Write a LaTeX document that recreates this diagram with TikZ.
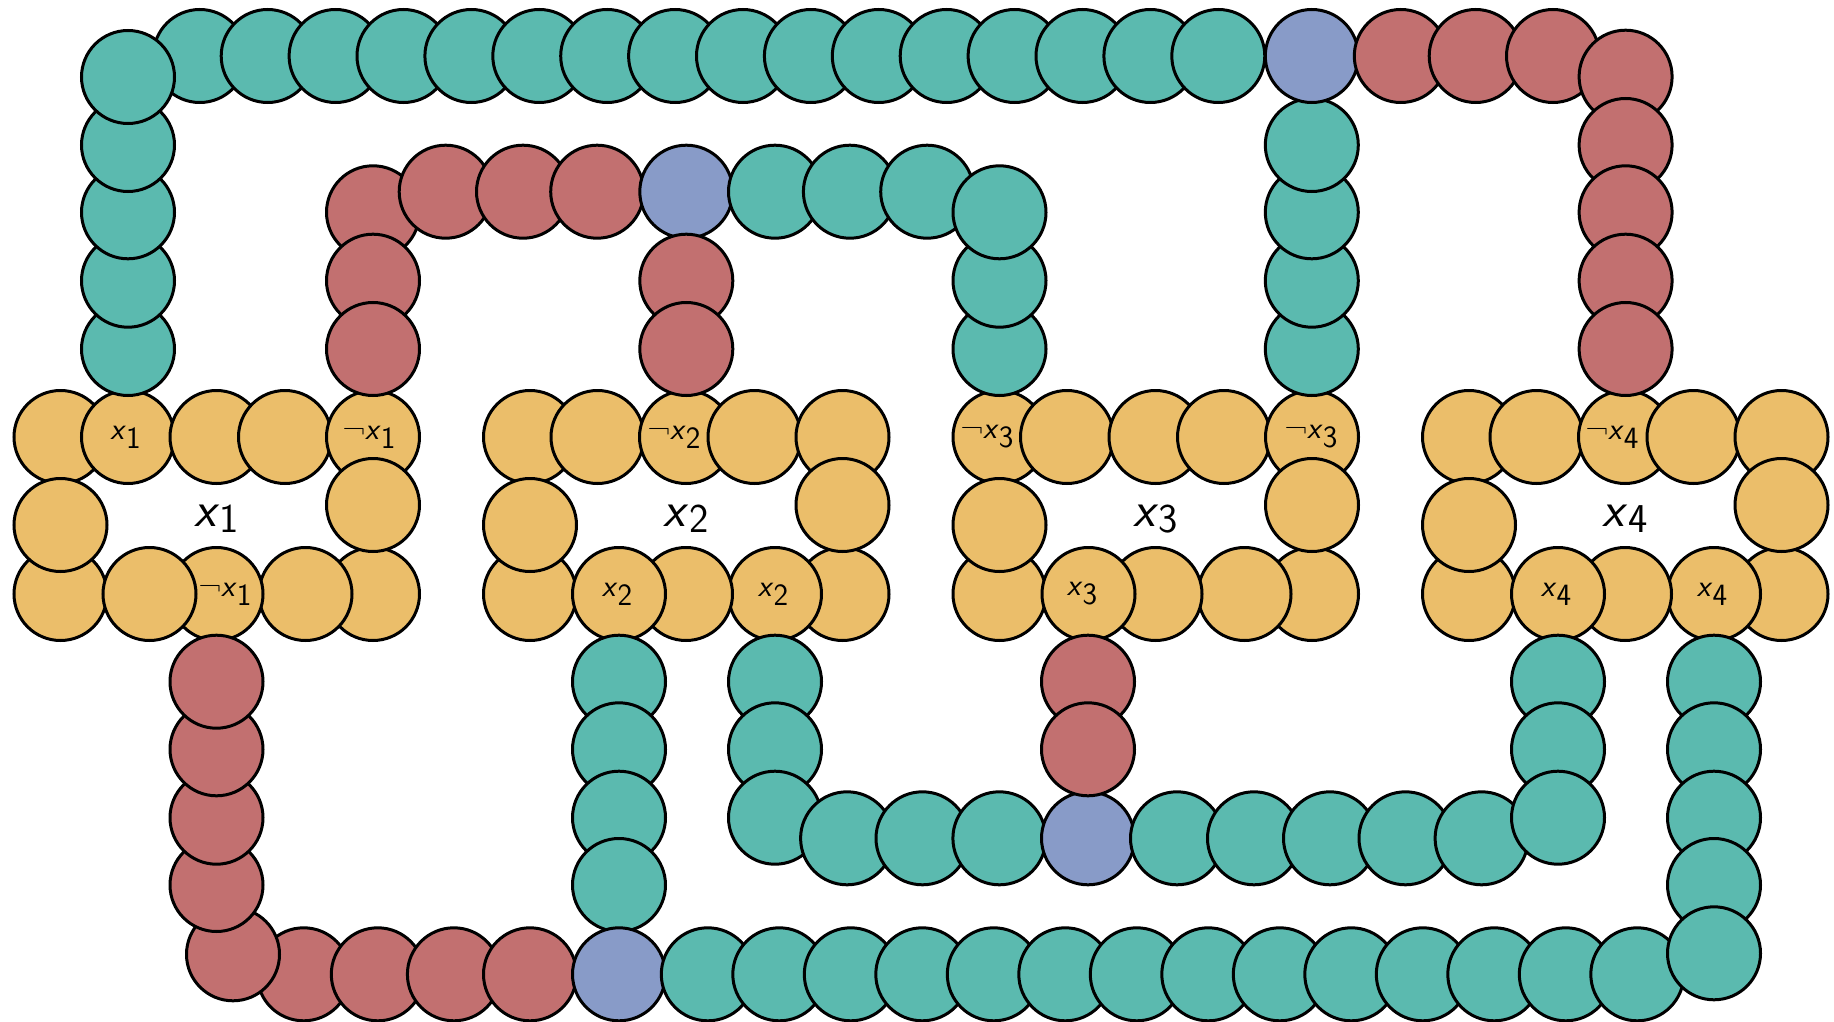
\documentclass[tikz,border=0pt]{standalone}
\definecolor{tealc}{RGB}{91,186,175}
\definecolor{redc}{RGB}{194,112,112}
\definecolor{bluec}{RGB}{136,155,200}
\definecolor{orac}{RGB}{235,190,106}
\newcommand\posl[1]{\textsl{x}\raisebox{-9pt}{#1}}
\newcommand\negl[1]{¬\posl{#1}}
\newcommand\varlab[1]{\textsl{x}\raisebox{-6pt}{\fontsize{41}{41}\selectfont #1}}
\tikzset{
  bead/.style={circle, draw=black, line width=3pt, minimum size=93pt, inner sep=0pt},
  tealb/.style={bead, fill=tealc},
  redb/.style={bead, fill=redc},
  blueb/.style={bead, fill=bluec},
  orab/.style={bead, fill=orac},
  lab/.style={font=\fontsize{31}{33}\selectfont\sffamily, inner sep=0pt},
  biglab/.style={font=\fontsize{50}{52}\selectfont\sffamily, inner sep=0pt},
}
\newcommand\mkgadget[2]{%
  \foreach \o [count=\k] in {0,67.5,156,224.5,312.5}
    \node[orab] (#2t\k) at ({#1+\o},437) {};
  \node[orab] (#2b1) at ({#1+312.5},594) {};
  \node[orab] (#2b5) at ({#1},594) {};
  \node[orab] (#2b2) at ({#1+245},594) {};
  \node[orab] (#2b3) at ({#1+156},594) {};
  \node[orab] (#2b4) at ({#1+89},594) {};
  \node[orab] (#2r) at ({#1+312.5},505) {};
  \node[orab] (#2l) at ({#1},525) {};
}
\begin{document}
\begin{tikzpicture}[x=1pt,y=-1pt]
\useasboundingbox (0,0) rectangle (1834,1022);
% variable gadgets
\mkgadget{60.5}{ga}
\mkgadget{530}{gb}
\mkgadget{999.5}{gc}
\mkgadget{1469}{gd}
% chain A (teal, top loop)
\foreach \y [count=\k] in {349,280.7,212.3,145}
  \node[tealb] (al\k) at (128,\y) {};
\foreach \k in {0,...,15}
  \node[tealb] (at\k) at ({199.8+67.9*\k},56) {};
\node[tealb] (acl) at (128,77) {};
\foreach \y [count=\k] in {349,280.7,212.3,145}
  \node[tealb] (ar\k) at (1311.8,\y) {};
\node[blueb] (blA) at (1311.8,56) {};
% chain B (red, top right)
\foreach \x [count=\k] in {1400.8,1475.7,1553}
  \node[redb] (bt\k) at (\x,56) {};
\node[redb] (bc) at (1625.6,76.7) {};
\foreach \y [count=\k] in {145,212.3,280.7,349}
  \node[redb] (bv\k) at (1625.6,\y) {};
% chain C (red + teal, upper middle)
\node[redb] (cc) at (373,212.3) {};
\foreach \y [count=\k] in {280.7,349}
  \node[redb] (cv\k) at (373,\y) {};
\foreach \x [count=\k] in {445.7,523,597.2}
  \node[redb] (ct\k) at (\x,191.7) {};
\node[blueb] (blC) at (686.3,191.7) {};
\foreach \y [count=\k] in {280.7,349}
  \node[redb] (cd\k) at (686.3,\y) {};
\foreach \x [count=\k] in {775,849.9,927.2}
  \node[tealb] (cu\k) at (\x,191.7) {};
\foreach \y [count=\k] in {349,280.7}
  \node[tealb] (cw\k) at (999.5,\y) {};
\node[tealb] (cc2) at (999.5,212.3) {};
% chain E (teal column above bottom blue)
\foreach \y [count=\k] in {681.7,749.3,817.7,885}
  \node[tealb] (ev\k) at (619,\y) {};
% chain D (red, bottom left)
\foreach \x [count=\k] in {303.7,377.8,453.9,530}
  \node[redb] (dt\k) at (\x,974.3) {};
\node[redb] (dc) at (233,954.3) {};
\foreach \y [count=\k] in {885,817.7,749.3,681.7}
  \node[redb] (dv\k) at (216.5,\y) {};
\node[blueb] (blD) at (619,974.3) {};
% chain F (teal, bottom row)
\foreach \k in {0,...,13}
  \node[tealb] (ft\k) at ({707.8+71.5*\k},974.3) {};
\foreach \y [count=\k] in {681.7,749.3,817.7,885}
  \node[tealb] (fv\k) at (1714,\y) {};
\node[tealb] (fc) at (1714,953.3) {};
% chain G (teal, middle loop)
\foreach \y [count=\k] in {681.7,749.3}
  \node[tealb] (gv\k) at (775,\y) {};
\node[tealb] (gc1) at (775,817.7) {};
\foreach \x [count=\k] in {847.1,922.5,999.4}
  \node[tealb] (gl\k) at (\x,838.3) {};
\node[blueb] (blG) at (1088,838.3) {};
\foreach \x [count=\k] in {1177,1254,1330,1405.5,1481.6}
  \node[tealb] (gr\k) at (\x,838.3) {};
\foreach \y [count=\k] in {681.7,749.3}
  \node[tealb] (gw\k) at (1558,\y) {};
\node[tealb] (gc2) at (1558,817.7) {};
% chain H (red, below x3)
\foreach \y [count=\k] in {681.7,749.3}
  \node[redb] (hv\k) at (1088,\y) {};
% literal labels
\node[lab] (la1) at (125.5,437) {\posl{1}};
\node[lab] (la2) at (369,437) {\negl{1}};
\node[lab] (la3) at (225,594) {\negl{1}};
\node[lab] (lb1) at (674,437) {\negl{2}};
\node[lab] (lb2) at (617,594) {\posl{2}};
\node[lab] (lb3) at (773,594) {\posl{2}};
\node[lab] (lc1) at (987,437) {\negl{3}};
\node[lab] (lc2) at (1311,437) {\negl{3}};
\node[lab] (lc3) at (1082,594) {\posl{3}};
\node[lab] (ld1) at (1612,437) {\negl{4}};
\node[lab] (ld2) at (1556,594) {\posl{4}};
\node[lab] (ld3) at (1712,594) {\posl{4}};
% variable names
\node[biglab] (X1) at (216.5,519) {\varlab{1}};
\node[biglab] (X2) at (686,519) {\varlab{2}};
\node[biglab] (X3) at (1155.5,519) {\varlab{3}};
\node[biglab] (X4) at (1625,519) {\varlab{4}};
\end{tikzpicture}
\end{document}
